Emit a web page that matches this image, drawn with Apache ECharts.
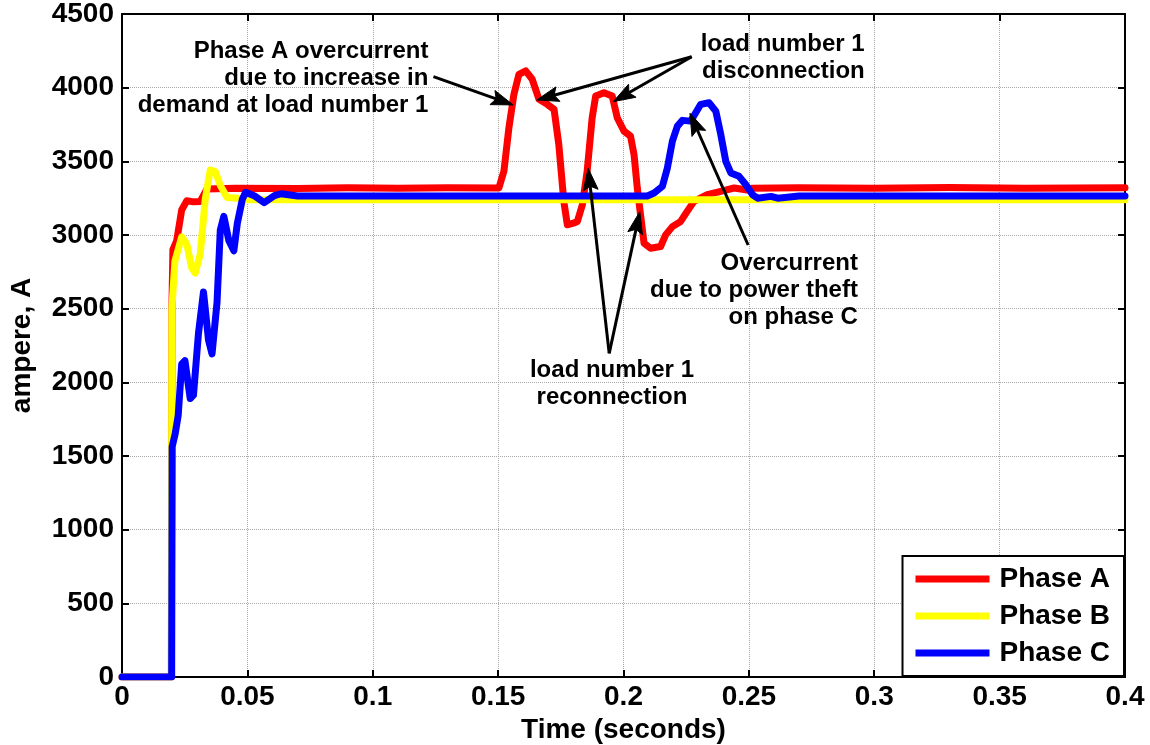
<!DOCTYPE html>
<html>
<head>
<meta charset="utf-8">
<script src="https://cdn.jsdelivr.net/npm/echarts@6/dist/echarts.min.js"></script>
<style>
  html, body { margin: 0; padding: 0; background: #fff; }
  #chart { width: 1150px; height: 745px; }
</style>
</head>
<body>
<div id="chart"></div>
<script>
// Three-phase feeder current (A) versus time (s)
const timeA = [0, 0.0197, 0.0199, 0.0203, 0.0218, 0.0238, 0.0258, 0.0285, 0.0312, 0.0339, 0.045, 0.07, 0.09, 0.11, 0.13, 0.1503,
  0.1523, 0.1543, 0.1563, 0.1583, 0.161, 0.1636, 0.1663, 0.1696, 0.1723, 0.1742, 0.1762, 0.1776, 0.18, 0.1816, 0.1836,
  0.1855, 0.1875, 0.1889, 0.1922, 0.1955, 0.1975, 0.2002, 0.2028, 0.2042, 0.2055, 0.2068, 0.2082, 0.2108, 0.2148,
  0.2168, 0.2195, 0.2228, 0.2254, 0.2281, 0.2334, 0.2388, 0.2441, 0.2494, 0.2515, 0.27, 0.3, 0.33, 0.36, 0.4];
const phaseA = [0, 0, 2500, 2900, 2960, 3170, 3232, 3225, 3228, 3313, 3318, 3316, 3320, 3318, 3320, 3319,
  3432, 3728, 3955, 4091, 4114, 4057, 3921, 3887, 3853, 3614, 3228, 3069, 3080, 3092, 3205,
  3433, 3796, 3943, 3966, 3943, 3796, 3705, 3671, 3546, 3319, 3137, 2944, 2910, 2922,
  3001, 3057, 3092, 3160, 3228, 3274, 3296, 3319, 3305, 3318, 3320, 3318, 3322, 3318, 3320];

const timeB = [0, 0.0196, 0.0199, 0.0211, 0.0238, 0.0258, 0.0278, 0.0292, 0.0312, 0.0332, 0.0352, 0.0372, 0.0392,
  0.0419, 0.046, 0.05, 0.1, 0.2, 0.3, 0.4];
const phaseB = [0, 0, 2500, 2823, 2987, 2940, 2777, 2742, 2870, 3243, 3441, 3430, 3337,
  3255, 3250, 3240, 3240, 3240, 3240, 3240];

const timeC = [0, 0.0198, 0.0200, 0.0212, 0.0224, 0.0238, 0.0251, 0.0272, 0.0285, 0.0305, 0.0325, 0.0345, 0.0359,
  0.0379, 0.0392, 0.0406, 0.0426, 0.0446, 0.046, 0.048, 0.0493, 0.0527, 0.0567, 0.0608, 0.0634, 0.07, 0.12, 0.17,
  0.2095, 0.2122, 0.2155, 0.2175, 0.2195, 0.2215, 0.2235, 0.2268, 0.2288, 0.2308, 0.2341, 0.2368, 0.2388, 0.2408,
  0.2428, 0.2461, 0.2488, 0.2515, 0.2535, 0.2588, 0.2615, 0.27, 0.33, 0.4];
const phaseC = [0, 0, 1563, 1650, 1773, 2123, 2147, 1890, 1913, 2333, 2613, 2287, 2193,
  2543, 3033, 3127, 2963, 2893, 3080, 3243, 3290, 3267, 3220, 3267, 3280, 3265, 3265, 3265,
  3265, 3285, 3330, 3455, 3637, 3739, 3778, 3773, 3830, 3887, 3898, 3841, 3682, 3500,
  3421, 3398, 3341, 3273, 3250, 3262, 3250, 3265, 3265, 3265];

const seriesNames = ['Phase A', 'Phase B', 'Phase C'];
const seriesColors = ['#ff0000', '#ffff00', '#0000ff'];

const xTickLabels = ['0', '0.05', '0.1', '0.15', '0.2', '0.25', '0.3', '0.35', '0.4'];
const yTickLabels = ['0', '500', '1000', '1500', '2000', '2500', '3000', '3500', '4000', '4500'];

// Callouts: text anchored in data space, arrows from a tail point to a tip point
const notes = [
  { text: 'Phase A overcurrent\ndue to increase in\ndemand at load number 1', at: [0.1222, 4064], align: 'right' },
  { text: 'load number 1\ndisconnection', at: [0.2962, 4203], align: 'right' },
  { text: 'Overcurrent\ndue to power theft\non phase C', at: [0.2935, 2627], align: 'right' },
  { text: 'load number 1\nreconnection', at: [0.1954, 1989], align: 'center' }
];
const arrows = [
  { from: [0.1242, 4075], to: [0.1560, 3883] },
  { from: [0.2272, 4210], to: [0.1654, 3916] },
  { from: [0.2272, 4210], to: [0.1959, 3905] },
  { from: [0.1943, 2197], to: [0.1859, 3453] },
  { from: [0.1943, 2197], to: [0.2065, 3158] },
  { from: [0.2497, 2932], to: [0.2265, 3826] }
];

const FONT = '"Liberation Sans", Arial, Helvetica, sans-serif';
const zip = (t, v) => t.map((x, i) => [x, v[i]]);
const seriesData = [zip(timeA, phaseA), zip(timeB, phaseB), zip(timeC, phaseC)];

const chart = echarts.init(document.getElementById('chart'), null, { renderer: 'canvas' });

const boxAxis = {
  axisLine: { show: true, onZero: false, lineStyle: { color: '#000', width: 2 } },
  axisTick: { show: true, inside: true, length: 7, lineStyle: { color: '#000', width: 2 } },
  axisLabel: { show: false },
  splitLine: { show: false }
};

chart.setOption({
  animation: false,
  backgroundColor: '#fff',
  grid: { left: 122, right: 25, top: 14, bottom: 68, containLabel: false, outerBoundsMode: 'none' },
  xAxis: [
    {
      type: 'value', min: 0, max: 0.4, interval: 0.05, position: 'bottom',
      name: 'Time (seconds)', nameLocation: 'middle', nameGap: 38,
      nameTextStyle: { fontFamily: FONT, fontWeight: 'bold', fontSize: 28, color: '#000' },
      axisLine: { onZero: false, lineStyle: { color: '#000', width: 2 } },
      axisTick: { inside: true, length: 7, lineStyle: { color: '#000', width: 2 } },
      axisLabel: {
        margin: 6, fontFamily: FONT, fontWeight: 'bold', fontSize: 28, color: '#000',
        formatter: v => xTickLabels[Math.round(v / 0.05)]
      },
      splitLine: { show: true, lineStyle: { color: '#a8a8a8', type: 'dotted', width: 1 } }
    },
    Object.assign({ type: 'value', min: 0, max: 0.4, interval: 0.05, position: 'top' }, boxAxis)
  ],
  yAxis: [
    {
      type: 'value', min: 0, max: 4500, interval: 500, position: 'left',
      name: 'ampere, A', nameLocation: 'middle', nameGap: 86, nameRotate: 90,
      nameTextStyle: { fontFamily: FONT, fontWeight: 'bold', fontSize: 28, color: '#000' },
      axisLine: { show: true, onZero: false, lineStyle: { color: '#000', width: 2 } },
      axisTick: { show: true, inside: true, length: 7, lineStyle: { color: '#000', width: 2 } },
      axisLabel: {
        margin: 8, fontFamily: FONT, fontWeight: 'bold', fontSize: 28, color: '#000',
        formatter: v => yTickLabels[Math.round(v / 500)]
      },
      splitLine: { show: true, lineStyle: { color: '#a8a8a8', type: 'dotted', width: 1 } }
    },
    Object.assign({ type: 'value', min: 0, max: 4500, interval: 500, position: 'right' }, boxAxis)
  ],
  legend: {
    data: seriesNames,
    orient: 'vertical',
    right: 26, bottom: 69,
    backgroundColor: '#fff',
    borderColor: '#000', borderWidth: 2,
    padding: [8, 14, 8, 13],
    itemWidth: 74, itemHeight: 7, itemGap: 7,
    icon: 'rect',
    textStyle: { fontFamily: FONT, fontWeight: 'bold', fontSize: 28, color: '#000', lineHeight: 30, padding: [0, 0, 0, 5] }
  },
  series: seriesNames.map((name, i) => ({
    name, type: 'line', data: seriesData[i],
    xAxisIndex: 0, yAxisIndex: 0,
    showSymbol: false, symbol: 'none',
    color: seriesColors[i],
    lineStyle: { color: seriesColors[i], width: 7, cap: 'round', join: 'round' },
    z: 2 + i
  }))
});

// Callout text and arrows, positioned through the chart's own coordinate conversion
function drawCallouts() {
  const toPx = p => chart.convertToPixel({ xAxisIndex: 0, yAxisIndex: 0 }, p);
  const g = [];
  notes.forEach(n => {
    const [x, y] = toPx(n.at);
    g.push({
      type: 'text', x, y, z: 100, silent: true,
      style: {
        text: n.text, fill: '#000', font: 'bold 24px ' + FONT,
        align: n.align, verticalAlign: 'middle', lineHeight: 27
      }
    });
  });
  const headLen = 22, headHalf = 7.5;
  arrows.forEach(a => {
    const [x0, y0] = toPx(a.from);
    const [x1, y1] = toPx(a.to);
    const dx = x1 - x0, dy = y1 - y0;
    const L = Math.hypot(dx, dy);
    const ux = dx / L, uy = dy / L;
    const bx = x1 - ux * headLen, by = y1 - uy * headLen;
    g.push({
      type: 'line', z: 100, silent: true,
      shape: { x1: x0, y1: y0, x2: bx + ux * 4, y2: by + uy * 4 },
      style: { stroke: '#000', lineWidth: 3 }
    });
    g.push({
      type: 'polygon', z: 100, silent: true,
      shape: { points: [[x1, y1], [bx - uy * headHalf, by + ux * headHalf], [bx + ux * 4, by + uy * 4], [bx + uy * headHalf, by - ux * headHalf]] },
      style: { fill: '#000', stroke: '#000', lineWidth: 1 }
    });
  });
  chart.setOption({ graphic: g });
}
drawCallouts();
</script>
</body>
</html>
